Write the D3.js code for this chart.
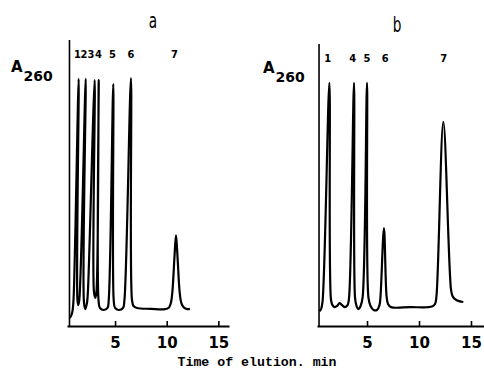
<!DOCTYPE html>
<html>
<head>
<meta charset="utf-8">
<script src="https://cdn.jsdelivr.net/npm/d3@7"></script>
<style>
  body { margin: 0; background: #fff; }
  svg { display: block; }
</style>
</head>
<body>
<svg width="484" height="375"></svg>
<script>
// elution time (min), A260 (0-100 = axis height)
// (the recorder pen leans, so the foot of each peak sits a little left of its tip)
const TRACE_A = [
  [0.59, 2.8], [0.74, 3.5], [0.88, 5.2], [0.98, 9.1], [1.48, 86.4], [1.36, 9.1], [1.44, 7.3],
  [1.54, 9.1], [2.16, 86.4], [1.99, 8.4], [2.12, 5.9], [2.28, 8.0], [2.38, 12.6], [3.03, 86],
  [2.96, 11.9], [3.09, 9.8], [3.2, 11.9], [3.42, 86], [3.40, 9.1], [3.54, 6.3], [3.9, 5.6],
  [4.27, 6.3], [4.39, 9.1], [4.83, 84.6], [4.87, 9.1], [5.0, 6.3], [5.35, 5.6], [5.77, 6.3],
  [5.91, 9.1], [6.54, 86.7], [6.64, 9.1], [6.79, 7.0], [7.12, 6.3], [8.5, 6.0], [9.84, 5.9],
  [10.2, 6.4], [10.4, 8], [10.55, 12], [10.75, 24], [10.9, 31.8], [11.05, 24], [11.25, 12],
  [11.42, 8], [11.65, 6.5], [12.0, 5.9], [12.25, 6.0]
];
const TRACE_B = [
  [0.43, 5.2], [0.58, 5.9], [0.72, 8.4], [1.38, 85], [1.54, 9.1], [1.68, 7.3], [1.88, 6.6],
  [2.12, 7.0], [2.36, 8.0], [2.6, 7.3], [2.88, 6.6], [3.13, 7.3], [3.27, 9.8], [3.75, 85],
  [3.85, 9.8], [3.99, 7.0], [4.16, 5.9], [4.38, 7.0], [4.57, 9.8], [5.0, 85], [5.14, 9.8],
  [5.34, 7.0], [5.63, 5.6], [5.96, 5.6], [6.2, 7.3], [6.3, 10.5], [6.63, 34.2], [6.88, 10.5],
  [7.02, 7.7], [7.31, 6.6], [9.13, 6.6], [11.25, 6.8], [11.54, 7.7], [11.68, 10.5],
  [12.34, 71.4], [13.08, 12.6], [13.22, 10.5], [13.46, 9.4], [13.85, 8.7], [14.26, 8.4]
];
const TICKS = [5, 10, 15];
const PEAKS_A = [["1", 1.36], ["2", 1.99], ["3", 2.67], ["4", 3.4], ["5", 4.75], ["6", 6.54], ["7", 10.75]];
const PEAKS_B = [["1", 1.22], ["4", 3.63], ["5", 5.0], ["6", 6.76], ["7", 12.38]];

const svg = d3.select('svg');

const y = d3.scaleLinear().domain([0, 100]).range([326, 40]);

function panel(opt) {
  const g = svg.append('g');
  const x = d3.scaleLinear().domain(opt.dom).range(opt.rng);

  // x axis, ticks pointing up
  const ax = g.append('g')
    .attr('transform', `translate(0, ${y(0)})`)
    .call(d3.axisBottom(x).tickValues(TICKS).tickSizeInner(-5).tickSizeOuter(0).tickPadding(11));
  ax.select('.domain').attr('stroke-width', 2);
  ax.selectAll('.tick line').attr('stroke-width', 1.6);
  ax.selectAll('.tick text')
    .attr('font-family', 'DejaVu Sans, sans-serif')
    .attr('font-weight', 'bold')
    .attr('font-size', 15)
    .attr('fill', '#000');

  // y axis (no ticks)
  g.append('line')
    .attr('x1', x(opt.yAxisAt)).attr('x2', x(opt.yAxisAt))
    .attr('y1', y(0)).attr('y2', y(opt.yTop))
    .attr('stroke', '#000').attr('stroke-width', 1.6);

  // chromatogram
  g.append('path')
    .datum(opt.trace)
    .attr('d', d3.line().x(d => x(d[0])).y(d => y(d[1])).curve(d3.curveCatmullRom.alpha(0.5)))
    .attr('fill', 'none')
    .attr('stroke', '#000')
    .attr('stroke-width', 2.2)
    .attr('stroke-linejoin', 'round');

  // peak numbers
  g.selectAll('.peak')
    .data(opt.peaks)
    .enter()
    .append('text')
    .attr('x', d => x(d[1]))
    .attr('y', opt.labelY)
    .attr('text-anchor', 'middle')
    .attr('font-family', 'DejaVu Sans Condensed, DejaVu Sans, sans-serif')
    .attr('font-weight', 'bold')
    .attr('font-size', 11)
    .text(d => d[0]);

  // A260
  const lab = g.append('text')
    .attr('x', opt.aX).attr('y', opt.aY)
    .attr('font-family', 'DejaVu Sans, sans-serif')
    .attr('font-weight', 'bold');
  lab.append('tspan').attr('font-size', 15).text('A');
  lab.append('tspan').attr('font-size', 14).attr('dx', 1).attr('dy', 9).text('260');

  // panel letter
  g.append('text')
    .attr('transform', `translate(${opt.letter[1]}, ${opt.letter[2]}) scale(0.62, 1)`)
    .attr('text-anchor', 'middle')
    .attr('font-family', 'DejaVu Sans, sans-serif')
    .attr('font-size', 22)
    .text(opt.letter[0]);
}

panel({
  dom: [0.35, 16.03], rng: [67, 229], yAxisAt: 0.59, yTop: 100,
  trace: TRACE_A, peaks: PEAKS_A, labelY: 58,
  aX: 11, aY: 72, letter: ['a', 153, 28]
});

panel({
  dom: [0.19, 16.25], rng: [317, 484], yAxisAt: 0.385, yTop: 98.6,
  trace: TRACE_B, peaks: PEAKS_B, labelY: 62,
  aX: 263, aY: 73, letter: ['b', 397, 32]
});

svg.append('text')
  .attr('x', 257).attr('y', 366)
  .attr('text-anchor', 'middle')
  .attr('font-family', 'Liberation Mono, monospace')
  .attr('font-weight', 'bold')
  .attr('font-size', 12)
  .attr('textLength', 159)
  .attr('lengthAdjust', 'spacingAndGlyphs')
  .text('Time of elution. min');
</script>
</body>
</html>
